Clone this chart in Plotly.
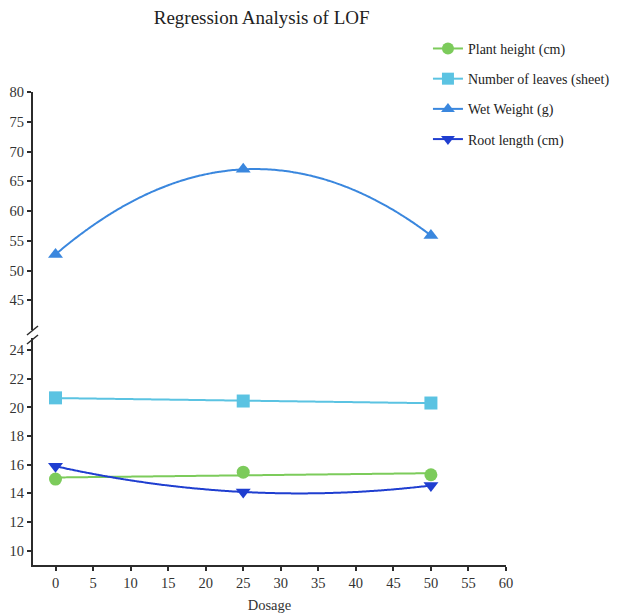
import numpy as np
import plotly.graph_objects as go

# Dosage levels and measured responses
dosage = [0, 25, 50]
plant_height = [15.0, 15.48, 15.30]
leaf_count = [20.67, 20.45, 20.31]
wet_weight = [52.7, 67.0, 55.9]
root_length = [15.9, 14.1, 14.55]

series = [
    # name, values, colour, marker symbol, fit degree, y-axis
    ("Plant height (cm)", plant_height, "#7CCB5B", "circle", 1, "y"),
    ("Number of leaves (sheet)", leaf_count, "#5BC3E2", "square", 1, "y"),
    ("Wet Weight (g)", wet_weight, "#3A87DE", "triangle-up", 2, "y2"),
    ("Root length (cm)", root_length, "#1F3ED0", "triangle-down", 2, "y"),
]

x_ticks = list(range(0, 61, 5))
lower_ticks = list(range(10, 25, 2))
upper_ticks = list(range(45, 81, 5))

serif = "Liberation Serif, Times New Roman, serif"
axis_col = "#2b2b2b"

fig = go.Figure()
xs = np.linspace(min(dosage), max(dosage), 200)

for i, (name, vals, col, sym, deg, yax) in enumerate(series):
    coef = np.polyfit(dosage, vals, deg)
    fig.add_trace(go.Scatter(
        x=xs, y=np.polyval(coef, xs), mode="lines", yaxis=yax,
        line=dict(color=col, width=2, shape="spline"), showlegend=False,
        hoverinfo="skip"))
    fig.add_trace(go.Scatter(
        x=dosage, y=vals, mode="markers", yaxis=yax, showlegend=False,
        marker=dict(color=col, symbol=sym, size=13)))
    # legend entry: line with marker
    fig.add_trace(go.Scatter(
        x=[None], y=[None], mode="lines+markers", name=name, legendgroup=f"g{i}",
        line=dict(color=col, width=2), marker=dict(color=col, symbol=sym, size=12)))

# plot area: x-axis line at 565 px, top of axis at ~92 px
top_px, bot_px = 92, 565
h = bot_px - top_px
lower_top_px, upper_bot_px = 338, 330
lower_dom = [0, (bot_px - lower_top_px) / h]
upper_dom = [(bot_px - upper_bot_px) / h, 1]

tick_font = dict(family=serif, size=14.5, color="#333")

common_axis = dict(showgrid=False, zeroline=False, showline=True,
                   linecolor=axis_col, linewidth=2, ticks="outside", ticklen=4,
                   tickcolor=axis_col, tickwidth=1.5, tickfont=tick_font,
                   automargin=False)

fig.update_layout(
    width=620, height=614,
    margin=dict(l=33, r=114, t=top_px, b=614 - bot_px, autoexpand=False),
    paper_bgcolor="white", plot_bgcolor="white",
    title=dict(text="Regression Analysis of LOF", x=0.422, xanchor="center",
               y=0.971, yanchor="middle",
               font=dict(family=serif, size=19, color="#222")),
    xaxis=dict(range=[-3, 60], tickvals=x_ticks, ticklabelstandoff=0,
               title=dict(text="Dosage", font=dict(family=serif, size=14.5, color="#333"),
                          standoff=9),
               **common_axis),
    yaxis=dict(domain=lower_dom, range=[9, 24.85], tickvals=lower_ticks,
               **common_axis),
    yaxis2=dict(domain=upper_dom, range=[40, 80], tickvals=upper_ticks, anchor="x",
                **common_axis),
    legend=dict(x=0.835, y=1.125, xanchor="left", yanchor="top",
                font=dict(family=serif, size=14, color="#222"),
                tracegroupgap=9, bgcolor="rgba(0,0,0,0)"),
    showlegend=True,
)

# axis break marks
for dy in (0, 9):
    fig.add_shape(type="line", xref="paper", yref="paper",
                  x0=-6 / 473, x1=5 / 473,
                  y0=(bot_px - 335 - dy) / h, y1=(bot_px - 326 - dy) / h,
                  line=dict(color=axis_col, width=1.5))

fig.write_html("out.html")
